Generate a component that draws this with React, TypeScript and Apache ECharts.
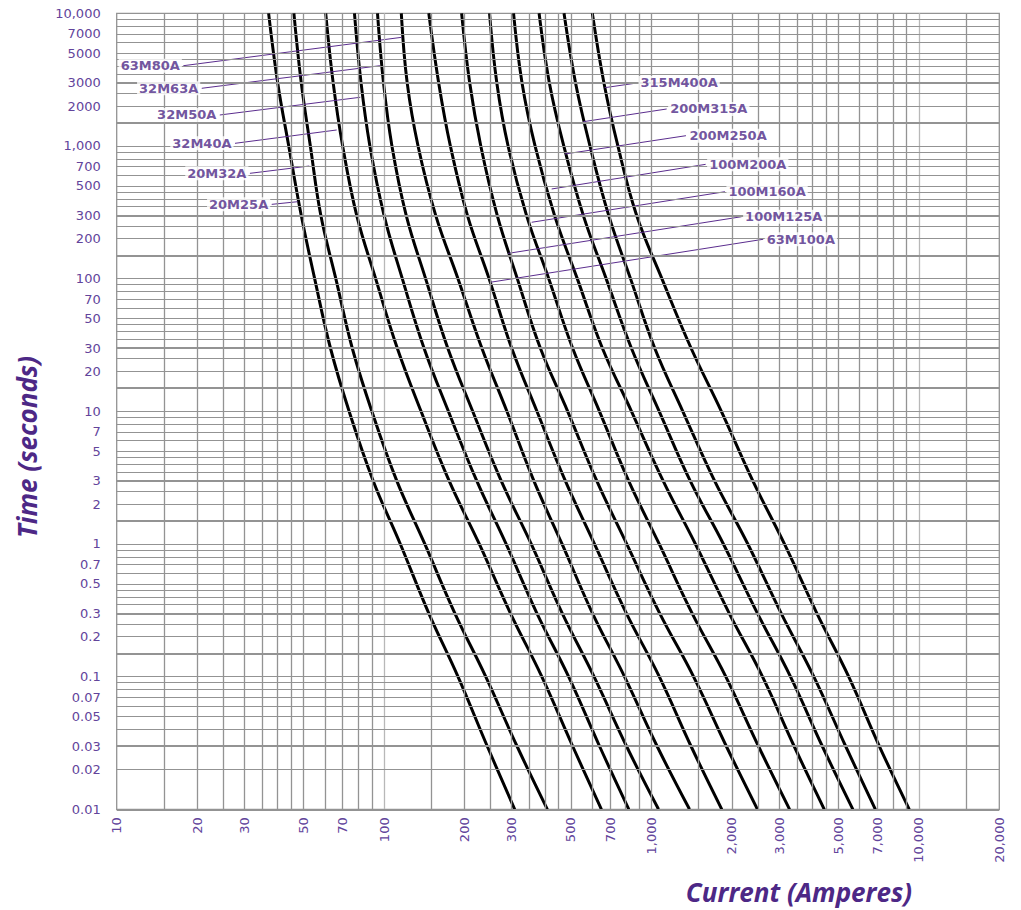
import React, { useEffect, useRef } from "react";
import * as echarts from "echarts";

// ---- data ----
// time levels (seconds) at which each curve's current was read
const timeLevels = [10000, 3000, 1000, 300, 100, 30, 10, 3, 1, 0.3, 0.1, 0.03, 0.01];

const fuseNames = [
  "20M25A", "20M32A", "32M40A", "32M50A", "32M63A", "63M80A", "63M100A",
  "100M125A", "100M160A", "100M200A", "200M250A", "200M315A", "315M400A",
];

// current (A) of each curve at the timeLevels above
const i20M25A = [37, 40, 44, 49, 55, 63, 74, 91, 115, 147, 189, 243, 308];
const i20M32A = [46, 49, 53, 58, 66, 76, 90, 111.5, 142, 184, 240, 314, 408];
const i32M40A = [60.5, 64.5, 70, 79, 93, 112, 137.5, 175, 227, 297, 389, 507, 650];
const i32M50A = [77.5, 82, 88.5, 100, 117, 141, 174, 222, 286, 373, 490, 639, 823];
const i32M63A = [94.5, 99.5, 107, 121, 143, 173, 214.5, 274, 355, 464, 610, 806, 1063];
const i63M80A = [116, 122, 134, 156, 189, 232, 288, 363, 463, 602, 793, 1049, 1388];
const i63M100A = [147, 160, 177, 205, 247, 300, 373, 476, 612, 806, 1070, 1405, 1833];
const i100M125A = [195, 209, 230, 265, 315, 384, 486, 624, 808, 1074, 1437, 1904, 2492];
const i100M160A = [248, 264, 291, 341, 413, 507, 639, 821, 1069, 1420, 1897, 2511, 3286];
const i100M200A = [305, 328, 367, 434, 528, 655, 842, 1105, 1460, 1954, 2602, 3415, 4430];
const i200M250A = [380, 415, 470, 556, 677, 841, 1069, 1395, 1858, 2492, 3311, 4352, 5667];
const i200M315A = [471, 520, 589, 692, 835, 1028, 1310, 1721, 2293, 3057, 4048, 5321, 6879];
const i315M400A = [601, 664, 749, 880, 1094, 1406, 1826, 2392, 3143, 4157, 5466, 7114, 9210];

const curveCurrents = [
  i20M25A, i20M32A, i32M40A, i32M50A, i32M63A, i63M80A, i63M100A,
  i100M125A, i100M160A, i100M200A, i200M250A, i200M315A, i315M400A,
];

// annotation leader lines: label end (current, time) and curve end (current, time)
const labelCurrent = [38, 31.5, 27.7, 24.3, 20.8, 17.75, 2619, 2174, 1883, 1595, 1346, 1140, 883];
const labelTime = [363, 622, 1047, 1712, 2721, 4027, 198, 293, 452, 727, 1195, 1900, 2983];
const pointerCurrent = [47.5, 52.5, 66.5, 81.5, 96.5, 116.5, 249, 291, 356.5, 423.5, 475, 556, 668];
const pointerTime = [380, 706, 1320, 2328, 4027, 6592, 93.8, 155, 266, 474, 870, 1524, 2749];
const labelSide = ["left", "left", "left", "left", "left", "left", "right", "right", "right", "right", "right", "right", "right"];

// axis tick labels
const xTickValues = [10, 20, 30, 50, 70, 100, 200, 300, 500, 700, 1000, 2000, 3000, 5000, 7000, 10000, 20000];
const xTickLabels = ["10", "20", "30", "50", "70", "100", "200", "300", "500", "700", "1,000", "2,000", "3,000", "5,000", "7,000", "10,000", "20,000"];
const yTickValues = [0.01, 0.02, 0.03, 0.05, 0.07, 0.1, 0.2, 0.3, 0.5, 0.7, 1, 2, 3, 5, 7, 10, 20, 30, 50, 70, 100, 200, 300, 500, 700, 1000, 2000, 3000, 5000, 7000, 10000];
const yTickLabels = ["0.01", "0.02", "0.03", "0.05", "0.07", "0.1", "0.2", "0.3", "0.5", "0.7", "1", "2", "3", "5", "7", "10", "20", "30", "50", "70", "100", "200", "300", "500", "700", "1,000", "2000", "3000", "5000", "7000", "10,000"];

// grid line multipliers within each decade
const gridMultipliers = [1, 1.5, 2, 2.5, 3, 3.5, 4, 4.5, 5, 6, 7, 8, 9];
const xDecades = [10, 100, 1000, 10000];
const yDecades = [0.01, 0.1, 1, 10, 100, 1000];
const xLightLines = [100, 10000];

const X_MIN = 10, X_MAX = 20000, Y_MIN = 0.01, Y_MAX = 10000;

const PURPLE = "#4d2886";
const TICK_PURPLE = "#62449b";
const GRID_GRAY = "#939393";

function lookup(values: number[], labels: string[], v: number) {
  for (let i = 0; i < values.length; i++) {
    if (Math.abs(v / values[i] - 1) < 1e-6) return labels[i];
  }
  return "";
}

function buildGrid(decades: number[], maxV: number) {
  const out: { v: number; m: number }[] = [];
  decades.forEach((d) => {
    gridMultipliers.forEach((m) => {
      const v = parseFloat((d * m).toPrecision(6));
      if (v <= maxV * 1.000001) out.push({ v, m });
    });
  });
  return out;
}

export default function App() {
  const ref = useRef<HTMLDivElement>(null);

  useEffect(() => {
    if (!ref.current) return;
    const chart = echarts.init(ref.current, undefined, { renderer: "svg" });

    const xGrid = buildGrid(xDecades, X_MAX).filter((g) => g.v > X_MIN && g.v < X_MAX);
    const yGrid = buildGrid(yDecades, Y_MAX).filter((g) => g.v > Y_MIN && g.v < Y_MAX);

    const markData: any[] = [];
    xGrid.forEach((g) =>
      markData.push({
        xAxis: g.v,
        lineStyle: {
          color: xLightLines.indexOf(g.v) >= 0 ? "#b8b8b8" : GRID_GRAY,
          width: 1.3,
          type: "solid",
        },
      })
    );
    yGrid.forEach((g) =>
      markData.push({
        yAxis: g.v,
        lineStyle: { color: GRID_GRAY, width: g.m === 1.5 ? 2.2 : g.m === 3 ? 1.8 : 1.2, type: "solid" },
      })
    );

    const series: any[] = [];
    series.push({
      type: "line",
      name: "grid",
      data: [[X_MIN, Y_MIN]],
      showSymbol: false,
      lineStyle: { opacity: 0 },
      silent: true,
      z: 1,
      markLine: {
        silent: true,
        symbol: ["none", "none"],
        label: { show: false },
        emphasis: { disabled: true },
        animation: false,
        data: markData,
      },
    });

    curveCurrents.forEach((arr, k) => {
      series.push({
        type: "line",
        name: fuseNames[k],
        data: timeLevels.map((t, i) => [arr[i], t]),
        showSymbol: false,
        smooth: 0.4,
        lineStyle: { color: "#000", width: 3 },
        silent: true,
        z: 3,
      });
    });

    fuseNames.forEach((n, k) => {
      series.push({
        type: "line",
        name: n + " leader",
        data: [
          [labelCurrent[k], labelTime[k]],
          [pointerCurrent[k], pointerTime[k]],
        ],
        showSymbol: false,
        lineStyle: { color: "#5b2d8e", width: 1 },
        silent: true,
        z: 4,
      });
    });

    series.push({
      type: "scatter",
      name: "labels",
      symbolSize: 1,
      itemStyle: { color: "rgba(0,0,0,0)" },
      silent: true,
      z: 5,
      data: fuseNames.map((n, k) => ({
        name: n,
        value: [labelCurrent[k], labelTime[k]],
        label: { position: labelSide[k] },
      })),
      label: {
        show: true,
        formatter: "{b}",
        color: PURPLE,
        fontWeight: "bold",
        fontSize: 13,
        fontFamily: "DejaVu Sans",
        backgroundColor: "#fff",
        padding: [1, 2, 0, 2],
        distance: 1,
      },
    });

    chart.setOption({
      animation: false,
      backgroundColor: "#fff",
      grid: {
        left: 116.7,
        right: 21.7,
        top: 13.3,
        bottom: 100.7,
        show: true,
        borderColor: GRID_GRAY,
        borderWidth: 1.3,
        backgroundColor: "#fff",
        containLabel: false,
        outerBoundsMode: "none",
      },
      xAxis: {
        type: "log",
        logBase: 10,
        min: X_MIN,
        max: X_MAX,
        axisLine: { show: false },
        axisTick: { show: false },
        splitLine: { show: false },
        minorTick: { show: false },
        minorSplitLine: { show: false },
        axisLabel: {
          customValues: xTickValues,
          formatter: (v: number) => lookup(xTickValues, xTickLabels, v),
          rotate: 90,
          margin: 8,
          color: TICK_PURPLE,
          fontFamily: "DejaVu Sans",
          fontSize: 13,
          showMinLabel: true,
          showMaxLabel: true,
        },
      },
      yAxis: {
        type: "log",
        logBase: 10,
        min: Y_MIN,
        max: Y_MAX,
        axisLine: { show: false },
        axisTick: { show: false },
        splitLine: { show: false },
        minorTick: { show: false },
        minorSplitLine: { show: false },
        axisLabel: {
          customValues: yTickValues,
          formatter: (v: number) => lookup(yTickValues, yTickLabels, v),
          margin: 16,
          color: TICK_PURPLE,
          fontFamily: "DejaVu Sans",
          fontSize: 13,
          showMinLabel: true,
          showMaxLabel: true,
        },
      },
      graphic: [
        {
          type: "text",
          x: 799,
          y: 892,
          silent: true,
          style: {
            text: "Current (Amperes)",
            fill: PURPLE,
            font: "italic bold 26px 'Open Sans', 'DejaVu Sans', sans-serif",
            align: "center",
            verticalAlign: "middle",
          },
        },
        {
          type: "text",
          x: 27,
          y: 447,
          rotation: Math.PI / 2,
          silent: true,
          style: {
            text: "Time (seconds)",
            fill: PURPLE,
            font: "italic bold 26px 'Open Sans', 'DejaVu Sans', sans-serif",
            align: "center",
            verticalAlign: "middle",
          },
        },
      ],
      series,
    });

    return () => {
      chart.dispose();
    };
  }, []);

  return (
    <div
      ref={ref}
      style={{ position: "fixed", left: 0, top: 0, width: 1021, height: 910, background: "#fff" }}
    />
  );
}
